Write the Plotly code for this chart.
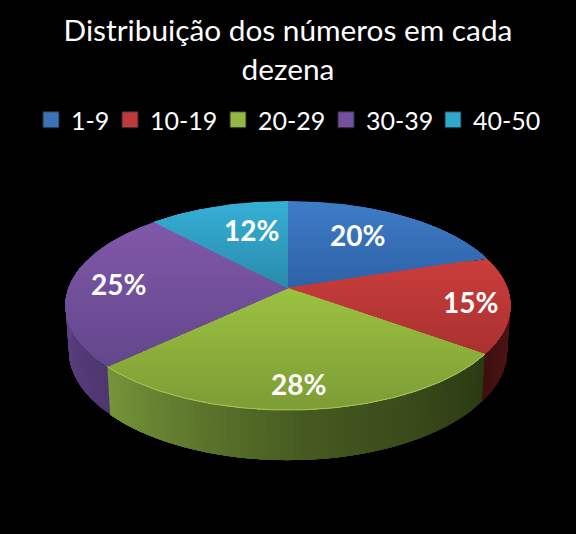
import numpy as np
import plotly.graph_objects as go

# ---------- data ----------
categories = ["1-9", "10-19", "20-29", "30-39", "40-50"]
values = [20, 15, 28, 25, 12]
title_text = "Distribuição dos números em cada<br>dezena"

# ---------- styles ----------
FONT = "Lato"
legend_colors = ["#3B73B9", "#C0393B", "#94B83F", "#7450A0", "#2FA8CB"]
legend_left = [31, 110, 218, 326, 433]
top_light = ["#3F7CC8", "#CB3E3C", "#9CC241", "#8058A9", "#36B0D6"]
top_dark = ["#2D62A6", "#A93130", "#7C9C35", "#63478C", "#2A8BAB"]
wall_left = ["#2A4F80", "#6E1C1C", "#2C3A14", "#4E3670", "#23708A"]
wall_mid = ["#243F66", "#521515", "#465A20", "#5A3F7E", "#1C5A70"]
wall_right = ["#1A2E4A", "#3C0F0F", "#76953A", "#624689", "#154355"]
label_xy = [(357, 235), (470, 302), (298, 384), (118, 284), (251, 230)]
CX, CY = 288.0, 288.0
AX, BY, K = 219.4, 101.6, 0.1674
WALL_SX, WALL_SY, WALL_DZ = 0.985, 1.05, 44.0


def project(t):
    """Perspective projection of the rim; t = clockwise turn from 12 o'clock."""
    x, y = np.sin(t), np.cos(t)
    d = 1 + K * y
    return AX * x / d, BY * y / d


def top_xy(t):
    u, v = project(t)
    return CX + u, CY - v


def bottom_xy(t):
    u, v = project(t)
    return CX + WALL_SX * u, CY - (WALL_SY * v - WALL_DZ)


def clip_below(poly, y0):
    out = []
    for i in range(len(poly)):
        a, b = poly[i], poly[(i + 1) % len(poly)]
        ia, ib = a[1] >= y0, b[1] >= y0
        if ia:
            out.append(tuple(a))
        if ia != ib:
            s = (y0 - a[1]) / (b[1] - a[1])
            out.append((a[0] + s * (b[0] - a[0]), y0))
    return out


def rgb(h):
    return np.array([int(h[i:i + 2], 16) for i in (1, 3, 5)], float)


def mix(a, b, s):
    c = rgb(a) * (1 - s) + rgb(b) * s
    return "rgb(%d,%d,%d)" % tuple(np.round(c))


def polygon(xs, ys, color):
    return go.Scatter(x=list(xs) + [xs[0]], y=list(ys) + [ys[0]], mode="lines", fill="toself",
                      fillcolor=color, line=dict(width=0),
                      hoverinfo="skip", showlegend=False)


fig = go.Figure()
total = sum(values)
edges = np.cumsum([0] + values) / total * 2 * np.pi

# side wall: each strip runs to the end of the slice and the next one paints over it
for i in range(len(values)):
    a0 = edges[i]
    a1 = min(edges[i + 1], np.radians(285))
    if np.cos(a0) > 0.2 and np.cos(a1) > 0.2:
        continue
    a0 = max(a0, np.radians(78))
    n = max(2, int((a1 - a0) / np.radians(1.5)))
    ts = np.linspace(a0, a1, n + 1)
    for j in range(n):
        tt = np.linspace(ts[j], a1, 80)
        tx, ty = top_xy(tt)
        bx, by = bottom_xy(tt)
        s = (j + 0.5) / n
        col = mix(wall_left[i], wall_mid[i], s * 2) if s < 0.5 else mix(wall_mid[i], wall_right[i], s * 2 - 1)
        fig.add_trace(polygon(list(tx) + list(bx[::-1]), list(ty) + list(by[::-1]), col))

# top faces: vertical gradient, painted top to bottom
for i in range(len(values)):
    tt = np.linspace(edges[i], edges[i + 1], 160)
    ax, ay = top_xy(tt)
    poly = np.column_stack([np.r_[CX, ax], np.r_[CY, ay]])
    y_min, y_max = poly[:, 1].min(), poly[:, 1].max()
    nb = 30
    ys = np.linspace(y_min, y_max, nb + 1)
    for b in range(nb):
        p = clip_below(poly, ys[b])
        if len(p) >= 3:
            p = np.array(p)
            fig.add_trace(polygon(p[:, 0], p[:, 1], mix(top_light[i], top_dark[i], (b + 0.5) / nb)))

# soft light line on the front rim of the green slice
tt = np.linspace(edges[2], edges[3], 120)
rx, ry = top_xy(tt)
fig.add_trace(go.Scatter(x=rx, y=ry, mode="lines", line=dict(color="#A9C75A", width=1),
                         hoverinfo="skip", showlegend=False))

# legend entries: one legend box per entry so each can sit where the reference has it
legend_layout = {}
for k, (name, color, left) in enumerate(zip(categories, legend_colors, legend_left)):
    key = "legend" if k == 0 else f"legend{k + 1}"
    fig.add_trace(go.Scatter(x=[None], y=[None], mode="markers", name=name, legend=key,
                             showlegend=True,
                             marker=dict(symbol="square", size=16, color=color,
                                         line=dict(color="#2A2A3A", width=1))))
    legend_layout[key] = dict(orientation="h", x=left / 576, xanchor="left",
                              y=1 - 120 / 534, yanchor="middle",
                              bgcolor="rgba(0,0,0,0)",
                              font=dict(family=FONT, size=25, color="white"))

# percentage labels
for v, (lx, ly) in zip(values, label_xy):
    fig.add_annotation(x=lx, y=ly, text=f"<b>{v}%</b>", showarrow=False,
                       font=dict(family=FONT, size=28, color="white"))

fig.update_layout(
    width=576, height=534, autosize=False,
    margin=dict(l=0, r=0, t=0, b=0),
    paper_bgcolor="black", plot_bgcolor="black",
    title=dict(text=title_text, x=0.5, xanchor="center", y=0.9225, yanchor="top",
               font=dict(family=FONT, size=29.8, color="white")),
    xaxis=dict(range=[0, 576], visible=False, fixedrange=True),
    yaxis=dict(range=[534, 0], visible=False, fixedrange=True),
    **legend_layout,
)
fig.write_html("out.html", post_script="document.body.style.margin='0';", config=dict(displayModeBar=False))
